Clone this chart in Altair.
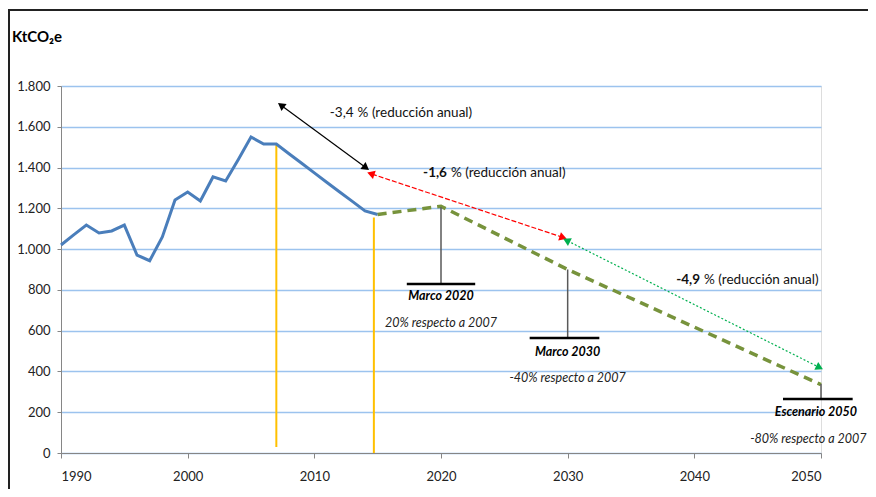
import altair as alt
import pandas as pd
import math

# ---------------- data ----------------
hist_years = list(range(1990, 2016))
hist_values = [1020, 1070, 1118, 1079, 1089, 1118, 971, 943, 1060, 1241,
               1280, 1236, 1354, 1334, 1440, 1550, 1515, 1515, 1468, 1421,
               1374, 1327, 1280, 1234, 1187, 1170]

proj_years = [2015, 2020, 2030, 2050]
proj_values = [1170, 1210, 900, 335]

yellow_x = [2007, 2014.7]
yellow_top = [1515, 1155]
yellow_bottom = [30, 0]

marker_years = [2020, 2030, 2050]
marker_top = [1205, 900, 338]
marker_base = [829, 564, 265]
marker_x1 = [2017.3, 2027.0, 2047.0]
marker_x2 = [2022.7, 2032.5, 2052.5]
marker_titles = ["Marco 2020", "Marco 2030", "Escenario 2050"]
marker_title_x = [2020, 2030, 2049.6]
marker_title_y = [770, 495, 201]
marker_subs = ["20% respecto a 2007", "-40% respecto a 2007", "-80% respecto a 2007"]
marker_sub_x = [2020, 2030, 2049.0]
marker_sub_y = [638, 368, 69]

arrow_x1 = [2007.45, 2014.55, 2030.0]
arrow_y1 = [1702, 1368, 1040]
arrow_x2 = [2014.0, 2029.55, 2049.8]
arrow_y2 = [1403, 1059, 422]
arrow_colors = ["#000000", "#FF0000", "#00B050"]

rate_numbers = ["-3,4", "-1,6", "-4,9"]
rate_rest = "% (reducción anual)"
rate_x = [2013.1, 2020.47, 2040.45]
rate_y = [1667, 1373, 848]
rate_bold = ["normal", "bold", "bold"]

# ---------------- layout ----------------
W, H = 760, 367
X0, X1 = 1990, 2050
Y0, Y1 = 0, 1800
FONT = "Lato, Roboto, sans-serif"

xs = alt.Scale(domain=[X0, X1], nice=False, zero=False)
ys = alt.Scale(domain=[Y0, Y1], nice=False)

hist = pd.DataFrame({"year": hist_years, "value": hist_values})
proj = pd.DataFrame({"year": proj_years, "value": proj_values})

base_x = alt.X("year:Q", scale=xs, axis=alt.Axis(
    values=list(range(1990, 2051, 10)), format="d", title=None, grid=False,
    domainColor="#868686", tickColor="#868686", tickSize=5,
    labelFont=FONT, labelFontSize=13, labelColor="#222222", labelPadding=12))
base_y = alt.Y("value:Q", scale=ys, axis=alt.Axis(
    values=list(range(0, 1801, 200)), title=None, grid=True,
    gridColor="#9cc3ee", gridWidth=1.4,
    labelExpr="replace(format(datum.value, ',d'), ',', '.')",
    domainColor="#868686", tickColor="#868686", tickSize=4,
    labelFont=FONT, labelFontSize=13, labelColor="#222222", labelPadding=7))

hist_line = alt.Chart(hist).mark_line(color="#4A7EBB", strokeWidth=3).encode(
    x=base_x, y=base_y)

proj_line = alt.Chart(proj).mark_line(color="#77933C", strokeWidth=3.5,
                                      strokeDash=[9, 6]).encode(
    x=alt.X("year:Q", scale=xs), y=alt.Y("value:Q", scale=ys))

yel = pd.DataFrame({"x": yellow_x, "y1": yellow_bottom, "y2": yellow_top})
yellow = alt.Chart(yel).mark_rule(color="#FFC000", strokeWidth=2).encode(
    x=alt.X("x:Q", scale=xs), y=alt.Y("y1:Q", scale=ys), y2="y2:Q")

mk = pd.DataFrame({"x": marker_years, "top": marker_top, "base": marker_base,
                   "x1": marker_x1, "x2": marker_x2,
                   "title": marker_titles, "tx": marker_title_x, "ty": marker_title_y,
                   "sub": marker_subs, "sx": marker_sub_x, "sy": marker_sub_y})
mk_vert = alt.Chart(mk).mark_rule(color="#595959", strokeWidth=1.5).encode(
    x=alt.X("x:Q", scale=xs), y=alt.Y("base:Q", scale=ys), y2="top:Q")
mk_hor = alt.Chart(mk).mark_rule(color="#000000", strokeWidth=2.5).encode(
    x=alt.X("x1:Q", scale=xs), x2="x2:Q", y=alt.Y("base:Q", scale=ys))
mk_title = alt.Chart(mk).mark_text(font=FONT, fontSize=12.5, fontWeight="bold",
                                   fontStyle="italic", color="#000000").encode(
    x=alt.X("tx:Q", scale=xs), y=alt.Y("ty:Q", scale=ys), text="title:N")
mk_sub = alt.Chart(mk).mark_text(font=FONT, fontSize=12.5, fontStyle="italic",
                                 color="#222222").encode(
    x=alt.X("sx:Q", scale=xs), y=alt.Y("sy:Q", scale=ys), text="sub:N")

# arrows
px_per_x = W / (X1 - X0)
px_per_y = H / (Y1 - Y0)
rows = []
heads = []
for i in range(3):
    rows.append({"x1": arrow_x1[i], "y1": arrow_y1[i], "x2": arrow_x2[i],
                 "y2": arrow_y2[i], "c": arrow_colors[i], "i": i})
    dx = (arrow_x2[i] - arrow_x1[i]) * px_per_x
    dy = -(arrow_y2[i] - arrow_y1[i]) * px_per_y
    ang = math.degrees(math.atan2(dx, -dy)) % 360
    heads.append({"x": arrow_x2[i], "y": arrow_y2[i], "a": ang, "c": arrow_colors[i]})
    heads.append({"x": arrow_x1[i], "y": arrow_y1[i], "a": (ang + 180) % 360, "c": arrow_colors[i]})
ar = pd.DataFrame(rows)
hd = pd.DataFrame(heads)

arrow_black = alt.Chart(ar[ar.i == 0]).mark_rule(strokeWidth=1.2, color="#000000").encode(
    x=alt.X("x1:Q", scale=xs), x2="x2:Q", y=alt.Y("y1:Q", scale=ys), y2="y2:Q")
arrow_red = alt.Chart(ar[ar.i == 1]).mark_rule(strokeWidth=1.2, color="#FF0000",
                                               strokeDash=[5, 2]).encode(
    x=alt.X("x1:Q", scale=xs), x2="x2:Q", y=alt.Y("y1:Q", scale=ys), y2="y2:Q")
arrow_green = alt.Chart(ar[ar.i == 2]).mark_rule(strokeWidth=1.2, color="#00B050",
                                                 strokeDash=[2, 2]).encode(
    x=alt.X("x1:Q", scale=xs), x2="x2:Q", y=alt.Y("y1:Q", scale=ys), y2="y2:Q")
arrow_heads = alt.Chart(hd).mark_point(shape="triangle", filled=True, size=75,
                                       opacity=1).encode(
    x=alt.X("x:Q", scale=xs), y=alt.Y("y:Q", scale=ys),
    angle=alt.Angle("a:Q", scale=None), color=alt.Color("c:N", scale=None))

rt = pd.DataFrame({"x": rate_x, "y": rate_y, "num": rate_numbers,
                   "rest": [rate_rest] * 3, "w": rate_bold})
rate_num_n = alt.Chart(rt[rt.w == "normal"]).mark_text(
    font=FONT, fontSize=13.5, align="right", color="#111111").encode(
    x=alt.X("x:Q", scale=xs), y=alt.Y("y:Q", scale=ys), text="num:N")
rate_num_b = alt.Chart(rt[rt.w == "bold"]).mark_text(
    font=FONT, fontSize=13.5, fontWeight="bold", align="right", color="#111111").encode(
    x=alt.X("x:Q", scale=xs), y=alt.Y("y:Q", scale=ys), text="num:N")
rate_txt = alt.Chart(rt).mark_text(
    font=FONT, fontSize=13.5, align="left", dx=4, color="#111111").encode(
    x=alt.X("x:Q", scale=xs), y=alt.Y("y:Q", scale=ys), text="rest:N")

# frame and unit title (decoration, pixel positions relative to plot area)
frame_top = alt.Chart(pd.DataFrame({"k": [0]})).mark_rect(color="#222222").encode(
    x=alt.value(-53), x2=alt.value(830), y=alt.value(-77), y2=alt.value(-75))
frame_left = alt.Chart(pd.DataFrame({"k": [0]})).mark_rect(color="#222222").encode(
    x=alt.value(-53), x2=alt.value(-51), y=alt.value(-77), y2=alt.value(420))
unit = alt.Chart(pd.DataFrame({"t": ["KtCO₂e"]})).mark_text(
    font=FONT, fontSize=15, fontWeight="bold", align="left", baseline="middle",
    color="#000000").encode(x=alt.value(-49), y=alt.value(-49), text="t:N")

chart = alt.layer(
    yellow, hist_line, proj_line, mk_vert, mk_hor, mk_title, mk_sub,
    arrow_black, arrow_red, arrow_green, arrow_heads,
    rate_num_n, rate_num_b, rate_txt, frame_top, frame_left, unit
).properties(
    width=W, height=H, autosize=alt.AutoSizeParams(type="none"),
    padding={"left": 53, "top": 78, "right": 47, "bottom": 36}
).configure_view(stroke=None).configure(background="white")

chart.save("out.html", embed_options={"renderer": "svg", "actions": False})
